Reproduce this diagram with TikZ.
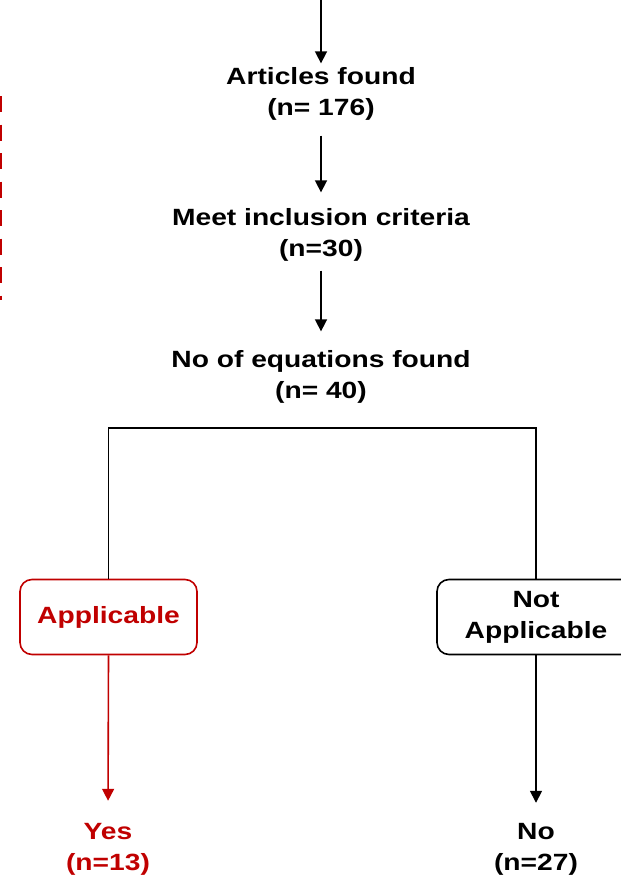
\documentclass[tikz,border=0pt]{standalone}
\usepackage{fontspec}
\setmainfont{Liberation Sans}[FakeStretch=1.2]
\usepackage{xcolor}
\usetikzlibrary{arrows.meta}
\definecolor{appred}{HTML}{C00000}

\begin{document}
\begin{tikzpicture}[x=1pt, y=-1pt,
	txt/.style={font=\bfseries\fontsize{23.5}{31}\selectfont, align=center, inner sep=2pt},
	flow/.style={-{Triangle[width=12pt,length=12pt]}, line width=1.6pt},
	box/.style={draw, line width=1.6pt, rounded corners=12pt, minimum height=75pt, txt}]
	\clip (0,0) rectangle (621,878);
	\draw[appred, line width=4.5pt, dash pattern=on 16pt off 12.5pt] (0,96) -- (0,300);
	\coordinate (top) at (321,0);
	\node[txt] (found) at (321,94) {Articles found\\(n= 176)};
	\node[txt] (meet) at (321,235) {Meet inclusion criteria\\(n=30)};
	\node[txt] (eqn) at (321,377) {No of equations found\\(n= 40)};
	\coordinate (split) at (321,428);
	\node[box, appred, minimum width=177pt] (appl) at (108.5,617) {Applicable};
	\node[box, minimum width=198pt] (notappl) at (536,617) {Not\\Applicable};
	\node[txt, appred] (yes) at (108,849) {Yes\\(n=13)};
	\node[txt] (no) at (536,849) {No\\(n=27)};
	\draw[flow, shorten >=2pt] (top) -- (found.north);
	\draw[flow, shorten <=13pt, shorten >=14pt] (found.south) -- (meet.north);
	\draw[flow, shorten <=7pt, shorten >=17pt] (meet.south) -- (eqn.north);
	\draw[line width=1.5pt] (appl.north) |- (split) -| (notappl.north);
	\draw[flow, appred, shorten >=20pt] (appl.south) -- (yes.north);
	\draw[flow, shorten >=18pt] (notappl.south) -- (no.north);
\end{tikzpicture}
\end{document}
